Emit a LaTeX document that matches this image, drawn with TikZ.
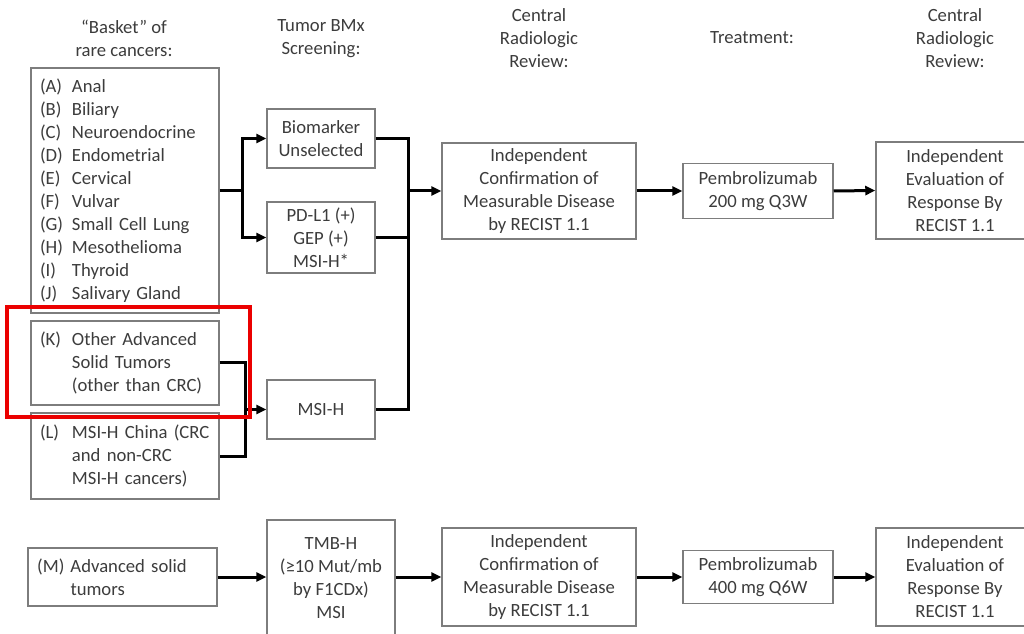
\documentclass[tikz,border=0pt]{standalone}
\usepackage{fontspec}
\setmainfont{Carlito}
\usetikzlibrary{arrows.meta}

\definecolor{boxgray}{RGB}{125,125,125}
\definecolor{txtgray}{RGB}{60,60,60}
\definecolor{hlred}{RGB}{235,0,0}

\newcommand{\bitem}[1]{\makebox[24pt][l]{#1}}

\tikzset{every picture/.style={line width=0.75pt}}
\tikzset{
  box/.style={draw=boxgray, line width=1.1pt, align=center, inner sep=2pt,
    text=txtgray, font=\fontsize{14}{17.25}\selectfont},
  listbox/.style={box, align=left, inner xsep=6.75pt},
  hdr/.style={align=center, inner sep=0.75pt, text=txtgray,
    font=\fontsize{14}{17.25}\selectfont},
  link/.style={line width=2.25pt},
  arr/.style={link, -{Triangle[length=7.5pt,width=6.75pt]}}
}

\begin{document}
\begin{tikzpicture}[x=0.75pt,y=0.75pt,yscale=-1,xscale=1]
\useasboundingbox (0,0) rectangle (1024,634);

% Text Node: column headers
\node [hdr] (hbasket) at (124,38.5) {“Basket” of\\rare cancers:};
\node [hdr] (hscreen) at (321,38.5) {Tumor BMx\\Screening:};
\node [hdr] (hreview) at (539,38) {Central\\Radiologic\\Review:};
\node [hdr] (htreat) at (752,38) {Treatment:};
\node [hdr] (hevalrev) at (955,38) {Central\\Radiologic\\Review:};

% Shape: basket of rare cancers
\node [listbox, minimum width=141pt, minimum height=183.75pt, text width=127.5pt] (basket) at (125,190.5)
  {\bitem{(A)}Anal\\ \bitem{(B)}Biliary\\ \bitem{(C)}Neuroendocrine\\ \bitem{(D)}Endometrial\\
   \bitem{(E)}Cervical\\ \bitem{(F)}Vulvar\\ \bitem{(G)}Small Cell Lung\\ \bitem{(H)}Mesothelioma\\
   \bitem{(I)}Thyroid\\ \bitem{(J)}Salivary Gland};
\node [listbox, minimum width=141pt, minimum height=63pt, text width=127.5pt] (kbox) at (125,363)
  {\bitem{(K)}Other Advanced\\ \bitem{}Solid Tumors\\ \bitem{}(other than CRC)};
\node [listbox, minimum width=141pt, minimum height=64.5pt, text width=127.5pt] (lbox) at (125,456)
  {\bitem{(L)}MSI-H China (CRC\\ \bitem{}and non-CRC\\ \bitem{}MSI-H cancers)};
\node [listbox, minimum width=141.75pt, minimum height=43.5pt, text width=128pt] (mbox) at (122.5,577)
  {\makebox[25pt][l]{(M)}Advanced solid\\ \makebox[25pt][l]{}tumors};

% Shape: biomarker screening
\node [box, minimum width=81pt, minimum height=44.25pt] (bio) at (321,138.5) {Biomarker\\Unselected};
\node [box, minimum width=81pt, minimum height=53.25pt] (pdl1) at (321,237.5) {PD-L1 (+)\\GEP (+)\\MSI-H*};
\node [box, minimum width=81pt, minimum height=44.25pt] (msih) at (321,409.5) {MSI-H};
\node [box, minimum width=96pt, minimum height=87pt] (tmb) at (331,578) {TMB-H\\(≥10 Mut/mb\\by F1CDx)\\MSI};

% Shape: review and treatment, upper row
\node [box, minimum width=145.5pt, minimum height=72pt] (conf1) at (539,191)
  {Independent\\Confirmation of\\Measurable Disease\\by RECIST 1.1};
\node [box, minimum width=112.5pt, minimum height=41.25pt] (pem1) at (758,191) {Pembrolizumab\\200 mg Q3W};
\node [box, minimum width=118.5pt, minimum height=72.75pt] (eval1) at (955,190.5)
  {Independent\\Evaluation of\\Response By\\RECIST 1.1};

% Shape: review and treatment, lower row
\node [box, minimum width=145.5pt, minimum height=73.5pt] (conf2) at (539,577)
  {Independent\\Confirmation of\\Measurable Disease\\by RECIST 1.1};
\node [box, minimum width=112.5pt, minimum height=39.75pt] (pem2) at (758,577) {Pembrolizumab\\400 mg Q6W};
\node [box, minimum width=118.5pt, minimum height=73.5pt] (eval2) at (955,577)
  {Independent\\Evaluation of\\Response By\\RECIST 1.1};

% Junction points
\coordinate (split) at (242,190.5);
\coordinate (trunk) at (408,191);
\coordinate (klmerge) at (245,409.5);

% Straight Lines: basket to screening
\draw [arr] (basket.east) -- (split) |- (bio.west);
\draw [arr] (split) |- (pdl1.west);
\draw [link] (bio.east) -| (trunk) |- (msih.east);
\draw [link] (pdl1.east) -- (pdl1.east -| trunk);
\draw [arr] (trunk) -- (conf1.west);
\draw [link] (kbox.east) -| (klmerge) |- (lbox.east);
\draw [arr] (klmerge) -- (msih.west);

% Straight Lines: upper row
\draw [arr] (conf1.east) -- (pem1.west);
\draw [arr] (pem1.east) -- (eval1.west);

% Straight Lines: lower row
\draw [arr] (mbox.east) -- (mbox.east -| tmb.west);
\draw [arr] (tmb.east |- conf2.west) -- (conf2.west);
\draw [arr] (conf2.east) -- (pem2.west);
\draw [arr] (pem2.east) -- (eval2.west);

%Shape: Rectangle (highlight)
\draw [hlred, line width=3pt] (7,307) rectangle (250,417);
\end{tikzpicture}
\end{document}
